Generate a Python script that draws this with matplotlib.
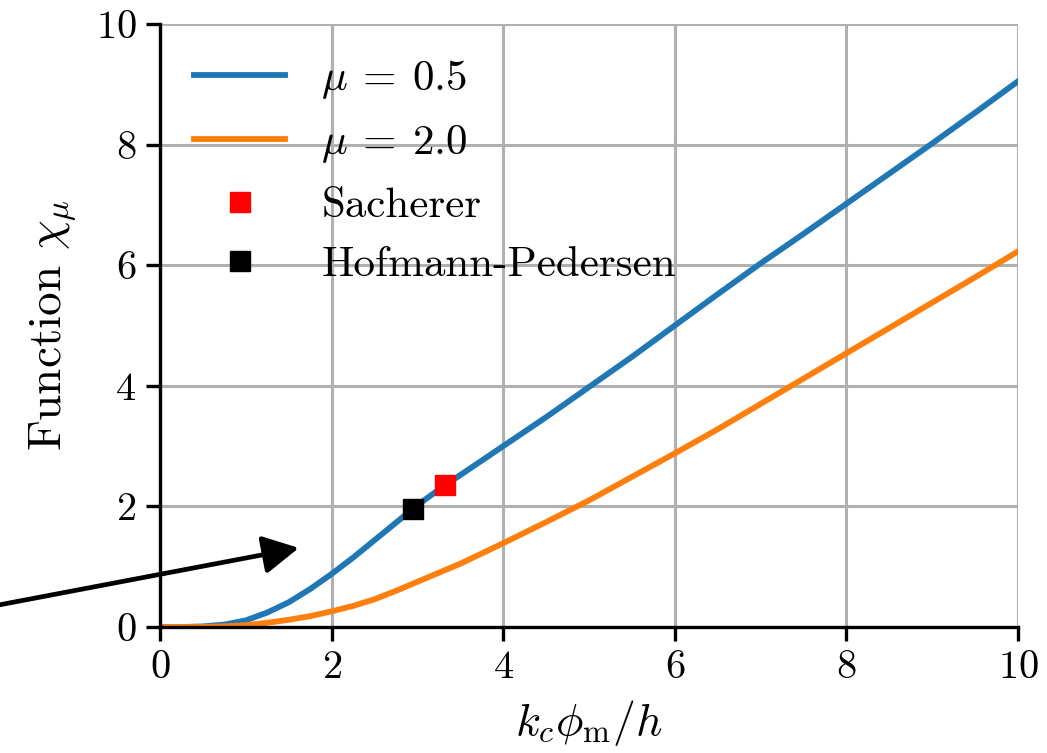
import numpy as np
import matplotlib
matplotlib.use("Agg")
import matplotlib.pyplot as plt

plt.rcParams.update({
    "font.family": "serif",
    "font.serif": ["cmr10", "DejaVu Serif"],
    "mathtext.fontset": "cm",
    "axes.formatter.use_mathtext": True,
    "font.size": 29,
    "axes.unicode_minus": False,
})

# curve samples
x_vals = [0, 0.25, 0.5, 0.75, 1.0, 1.25, 1.5, 1.75, 2.0, 2.25, 2.5, 2.75, 3.0,
          3.25, 3.5, 3.75, 4.0, 4.5, 5.0, 5.5, 6.0, 6.5, 7.0, 7.5, 8.0, 8.5,
          9.0, 9.5, 10.0]
chi_mu05 = [0.0, 0.0, 0.01, 0.04, 0.11, 0.24, 0.41, 0.63, 0.88, 1.15, 1.44, 1.73,
            2.02, 2.28, 2.52, 2.76, 3.0, 3.48, 3.98, 4.48, 5.0, 5.52, 6.03, 6.52,
            7.02, 7.52, 8.02, 8.53, 9.05]
chi_mu20 = [0.0, 0.0, 0.0, 0.01, 0.03, 0.07, 0.12, 0.18, 0.26, 0.35, 0.46, 0.6,
            0.75, 0.9, 1.05, 1.22, 1.39, 1.74, 2.1, 2.49, 2.88, 3.28, 3.7, 4.12,
            4.54, 4.96, 5.38, 5.8, 6.23]

sacherer = (3.32, 2.35)
hofmann = (2.95, 1.96)

fig = plt.figure(figsize=(10.47, 7.53), dpi=100)
ax = fig.add_axes([0.1528, 0.1673, 0.8195, 0.8008])

ax.plot(x_vals, chi_mu05, color="#1f77b4", linewidth=4.2, label=r"$\mu\:=\:0.5$")
ax.plot(x_vals, chi_mu20, color="#ff7f0e", linewidth=4.2, label=r"$\mu\:=\:2.0$")
ax.plot(*sacherer, "s", color="red", markersize=15, linestyle="", label="Sacherer", zorder=5)
ax.plot(*hofmann, "s", color="black", markersize=15, linestyle="", label="Hofmann-Pedersen", zorder=5)

ax.annotate("", xy=(1.65, 1.32), xytext=(-1.9, 0.36),
            arrowprops=dict(arrowstyle="-|>,head_length=0.75,head_width=0.4",
                            color="black", linewidth=3.4),
            annotation_clip=False)

ax.set_xlim(0, 10)
ax.set_ylim(0, 10)
ax.set_xticks([0, 2, 4, 6, 8, 10])
ax.set_yticks([0, 2, 4, 6, 8, 10])
ax.grid(True, color="#b0b0b0", linewidth=2.2)
ax.spines["top"].set_visible(False)
ax.spines["right"].set_visible(False)
for s in ("left", "bottom"):
    ax.spines[s].set_linewidth(2.4)
ax.tick_params(width=2.4, length=10, labelsize=29, pad=7)

ax.set_xlabel(r"$k_c\phi_{\rm m}/h$", fontsize=33, labelpad=8)
ax.set_ylabel(r"Function $\chi_\mu$", fontsize=34, labelpad=12)

ax.legend(loc="upper left", frameon=False, fontsize=31, handlelength=2.1,
          labelspacing=0.5, handletextpad=0.85, borderaxespad=0.4)

fig.savefig("out.png", dpi=100, facecolor="white")
